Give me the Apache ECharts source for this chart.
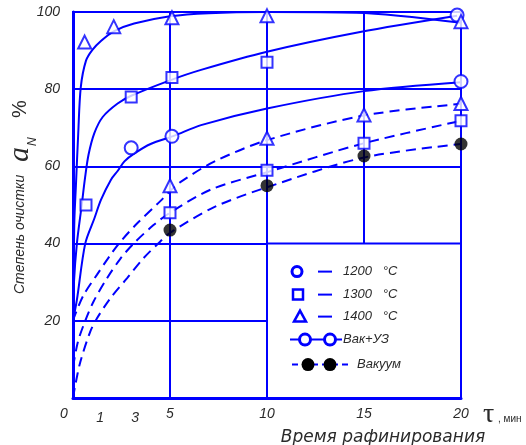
<!DOCTYPE html>
<html>
<head>
<meta charset="utf-8">
<script src="https://cdn.jsdelivr.net/npm/echarts@6.0.0/dist/echarts.min.js"></script>
<style>
html, body { margin: 0; padding: 0; background: #fff; }
#container { width: 526px; height: 445px; }
</style>
</head>
<body>
<div id="container"></div>
<script>
var BLUE = '#0000ff';
var TXT = '#2a2a2a';
var FONT = 'Liberation Sans';

// tick labels
var xTickValues = [0, 1.4, 3.2, 5, 10, 15, 20];
var xTickText = ['0', '1', '3', '5', '10', '15', '20'];
var yTickValues = [20, 40, 60, 80, 100];

// curves, [time, %]
// Вак+УЗ (solid)
var vakUz1400Curve = [[0, 20], [0.04, 35], [0.07, 46], [0.15, 55], [0.27, 68.6], [0.4, 80.5], [0.67, 87.4],
    [1.0, 90.2], [1.44, 92.5], [2.1, 95], [3.15, 97], [5, 98.9], [7, 99.7], [10, 100], [14.6, 99.8], [20, 97.2]];
var vakUz1300Curve = [[0, 20], [0.05, 30], [0.2, 40], [0.45, 50], [0.62, 57], [0.8, 63], [1.1, 68.6],
    [1.53, 72.8], [2.3, 76.3], [3, 78.3], [5, 82.3], [6.6, 85], [10, 89.7], [14.8, 94.8], [19.8, 99]];
var vakUz1200Curve = [[0, 20], [0.2, 25.4], [0.63, 40], [1.1, 46.5], [1.44, 51.3], [1.95, 56.5], [2.3, 58.8],
    [2.65, 61.3], [3.15, 63.3], [4, 65.8], [5.2, 67.9], [6.6, 70.7], [10, 75], [15, 79.5], [20, 81.8]];
// Вакуум (dashed)
var vak1400Curve = [[0, 20], [0.1, 21.5], [0.55, 26.7], [1.23, 31.9], [1.92, 37], [2.5, 40.8], [3.3, 45.2],
    [4.5, 51], [5, 53.6], [5.55, 56], [7.3, 61.3], [10, 66.8], [15, 73.2], [20, 76.2]];
var vak1300Curve = [[0, 8], [0.25, 14.5], [0.63, 20], [1.06, 25], [1.75, 31], [2.43, 36], [3.12, 40],
    [4.15, 44.8], [5, 48], [7.1, 54], [10, 58.5], [15, 66], [20, 71.8]];
var vak1200Curve = [[0, 0], [0.12, 3.4], [0.38, 9.4], [0.89, 17.2], [1.23, 20.6], [1.92, 25.8], [2.78, 31],
    [3.63, 36.2], [4.49, 40.5], [5, 42.8], [7.3, 49.5], [10, 54.6], [15, 62.3], [20, 65.8]];

// measured points
var vakUz1200Pts = [[3, 64.8], [5.1, 67.8], [20, 82], [19.8, 99.2]];
var vakUz1300Pts = [[0.67, 50], [3, 78], [5.1, 83], [10, 87]];
var vakUz1400Pts = [[0.6, 92.2], [2.1, 96.2], [5.1, 98.5], [10, 99], [20, 97.5]];
var vak1200Pts = [[5, 43.5], [10, 55], [15, 62.7], [20, 65.8]];
var vak1300Pts = [[5, 48], [10, 59], [15, 66], [20, 71.8]];
var vak1400Pts = [[5, 55], [10, 67.3], [15, 73.3], [20, 76.3]];

var tempLabels = ['1200   °C', '1300   °C', '1400   °C'];
var modeLabels = ['Вак+УЗ', 'Вакуум'];

function curve(data, dashed) {
    return {
        type: 'line', data: data, showSymbol: false, smooth: 0.3,
        silent: true, z: 3,
        lineStyle: { color: BLUE, width: 2, type: dashed ? [10, 6] : 'solid' }
    };
}

function points(data, symbol, size, filled) {
    return {
        type: 'scatter', data: data, symbol: symbol, symbolSize: size, clip: false, silent: true, z: 4,
        itemStyle: filled ? { color: '#000' } : { color: '#fff', borderColor: BLUE, borderWidth: 2 }
    };
}

var labelStyle = { color: TXT, fontStyle: 'italic', fontFamily: FONT, fontSize: 14 };

var myChart = echarts.init(document.getElementById('container'));
myChart.setOption({
    animation: false,
    backgroundColor: '#fff',
    grid: { left: 73, top: 12, right: 65, bottom: 47, show: true, borderColor: BLUE, borderWidth: 2 },
    xAxis: {
        type: 'value', min: 0, max: 20, interval: 5,
        axisLine: { show: true, onZero: false, lineStyle: { color: BLUE, width: 3 } },
        axisTick: { show: false },
        splitLine: { show: true, lineStyle: { color: BLUE, width: 2 } },
        axisLabel: Object.assign({}, labelStyle, {
            customValues: xTickValues,
            margin: 9,
            formatter: function (v) {
                var i = xTickValues.indexOf(v);
                var t = i >= 0 ? xTickText[i] : '';
                if (v === 0) return '{z|' + t + '}';
                if (v > 0 && v < 5) return '{d|' + t + '}';
                return t;
            },
            rich: {
                z: Object.assign({}, labelStyle, { padding: [0, 18, 0, 0] }),
                d: Object.assign({}, labelStyle, { padding: [4, 0, 0, 0] })
            }
        })
    },
    yAxis: {
        type: 'value', min: 0, max: 100, interval: 20,
        axisLine: { show: true, lineStyle: { color: BLUE, width: 3 } },
        axisTick: { show: false },
        splitLine: { show: true, lineStyle: { color: BLUE, width: 2 } },
        axisLabel: Object.assign({}, labelStyle, {
            margin: 13,
            formatter: function (v) { return yTickValues.indexOf(v) >= 0 ? String(v) : ''; }
        })
    },
    series: [
        curve(vakUz1400Curve, false),
        curve(vakUz1300Curve, false),
        curve(vakUz1200Curve, false),
        curve(vak1400Curve, true),
        curve(vak1300Curve, true),
        curve(vak1200Curve, true),
        points(vakUz1200Pts, 'circle', 13, false),
        points(vakUz1300Pts, 'rect', 11, false),
        points(vakUz1400Pts, 'triangle', 13, false),
        points(vak1300Pts, 'rect', 11, false),
        points(vak1400Pts, 'triangle', 13, false),
        points(vak1200Pts, 'circle', 13, true)
    ]
});

// legend box sits in the lower right cell block
var p0 = myChart.convertToPixel({ gridIndex: 0 }, [10, 40]);
var p1 = myChart.convertToPixel({ gridIndex: 0 }, [20, 0]);
var bx = p0[0] + 4, by = p0[1];
var legTxt = { fill: TXT, font: 'italic 13px "Liberation Sans"', verticalAlign: 'middle' };
var ringStyle = { fill: '#fff', stroke: BLUE, lineWidth: 2.5 };
var rowY = [28, 51, 73, 96, 121];

var g = [
    { type: 'rect', z: 100, shape: { x: p0[0], y: by, width: p1[0] - p0[0], height: p1[1] - by },
      style: { fill: '#fff', stroke: BLUE, lineWidth: 2 } },
    // temperature rows
    { type: 'circle', z: 101, shape: { cx: bx + 26, cy: by + rowY[0], r: 5 }, style: Object.assign({}, ringStyle, { lineWidth: 3 }) },
    { type: 'rect', z: 101, shape: { x: bx + 22, y: by + rowY[1] - 5, width: 10, height: 10 }, style: ringStyle },
    { type: 'polygon', z: 101, shape: { points: [[bx + 29, by + rowY[2] - 6], [bx + 23, by + rowY[2] + 5], [bx + 35, by + rowY[2] + 5]] }, style: ringStyle },
    // mode rows
    { type: 'line', z: 101, shape: { x1: bx + 19, y1: by + rowY[3], x2: bx + 71, y2: by + rowY[3] }, style: { stroke: BLUE, lineWidth: 2 } },
    { type: 'circle', z: 102, shape: { cx: bx + 34, cy: by + rowY[3], r: 5.5 }, style: Object.assign({}, ringStyle, { lineWidth: 3 }) },
    { type: 'circle', z: 102, shape: { cx: bx + 59, cy: by + rowY[3], r: 5.5 }, style: Object.assign({}, ringStyle, { lineWidth: 3 }) },
    { type: 'line', z: 101, shape: { x1: bx + 21, y1: by + rowY[4], x2: bx + 77, y2: by + rowY[4] }, style: { stroke: BLUE, lineWidth: 2, lineDash: [6, 4] } },
    { type: 'circle', z: 102, shape: { cx: bx + 37, cy: by + rowY[4], r: 6.5 }, style: { fill: '#000' } },
    { type: 'circle', z: 102, shape: { cx: bx + 59, cy: by + rowY[4], r: 6.5 }, style: { fill: '#000' } },
    { type: 'text', z: 101, x: bx + 72, y: by + rowY[3], style: Object.assign({ text: modeLabels[0] }, legTxt) },
    { type: 'text', z: 101, x: bx + 86, y: by + rowY[4], style: Object.assign({ text: modeLabels[1] }, legTxt) },
    // axis titles
    { type: 'text', x: 483, y: 401, style: { text: 'τ', font: '28px "Liberation Serif"', fill: TXT } },
    { type: 'text', x: 498, y: 414, style: { text: ', мин', font: '10px "Liberation Sans"', fill: TXT } },
    { type: 'text', x: 383, y: 438, style: { text: 'Время рафинирования', font: 'italic 17px "DejaVu Sans"', fill: TXT, align: 'center', verticalAlign: 'middle' } },
    { type: 'group', x: 20, y: 294, rotation: Math.PI / 2, children: [
        { type: 'text', x: 0, y: 0, style: { text: 'Степень очистки', font: 'italic 14px "Liberation Sans"', fill: TXT, verticalAlign: 'middle' } },
        { type: 'text', x: 132, y: 0, style: { text: 'a', font: 'italic 30px "Liberation Serif"', fill: TXT, verticalAlign: 'middle' } },
        { type: 'text', x: 148, y: 13, style: { text: 'N', font: 'italic 12px "Liberation Sans"', fill: TXT, verticalAlign: 'middle' } },
        { type: 'text', x: 176, y: 0, style: { text: '%', font: '20px "Liberation Sans"', fill: TXT, verticalAlign: 'middle' } }
    ] }
];
// dashes and texts of the temperature rows
for (var i = 0; i < tempLabels.length; i++) {
    g.push({ type: 'line', z: 101, shape: { x1: bx + 47, y1: by + rowY[i], x2: bx + 61, y2: by + rowY[i] }, style: { stroke: BLUE, lineWidth: 2 } });
    g.push({ type: 'text', z: 101, x: bx + 72, y: by + rowY[i], style: Object.assign({ text: tempLabels[i] }, legTxt) });
}
myChart.setOption({ graphic: g });
</script>
</body>
</html>
